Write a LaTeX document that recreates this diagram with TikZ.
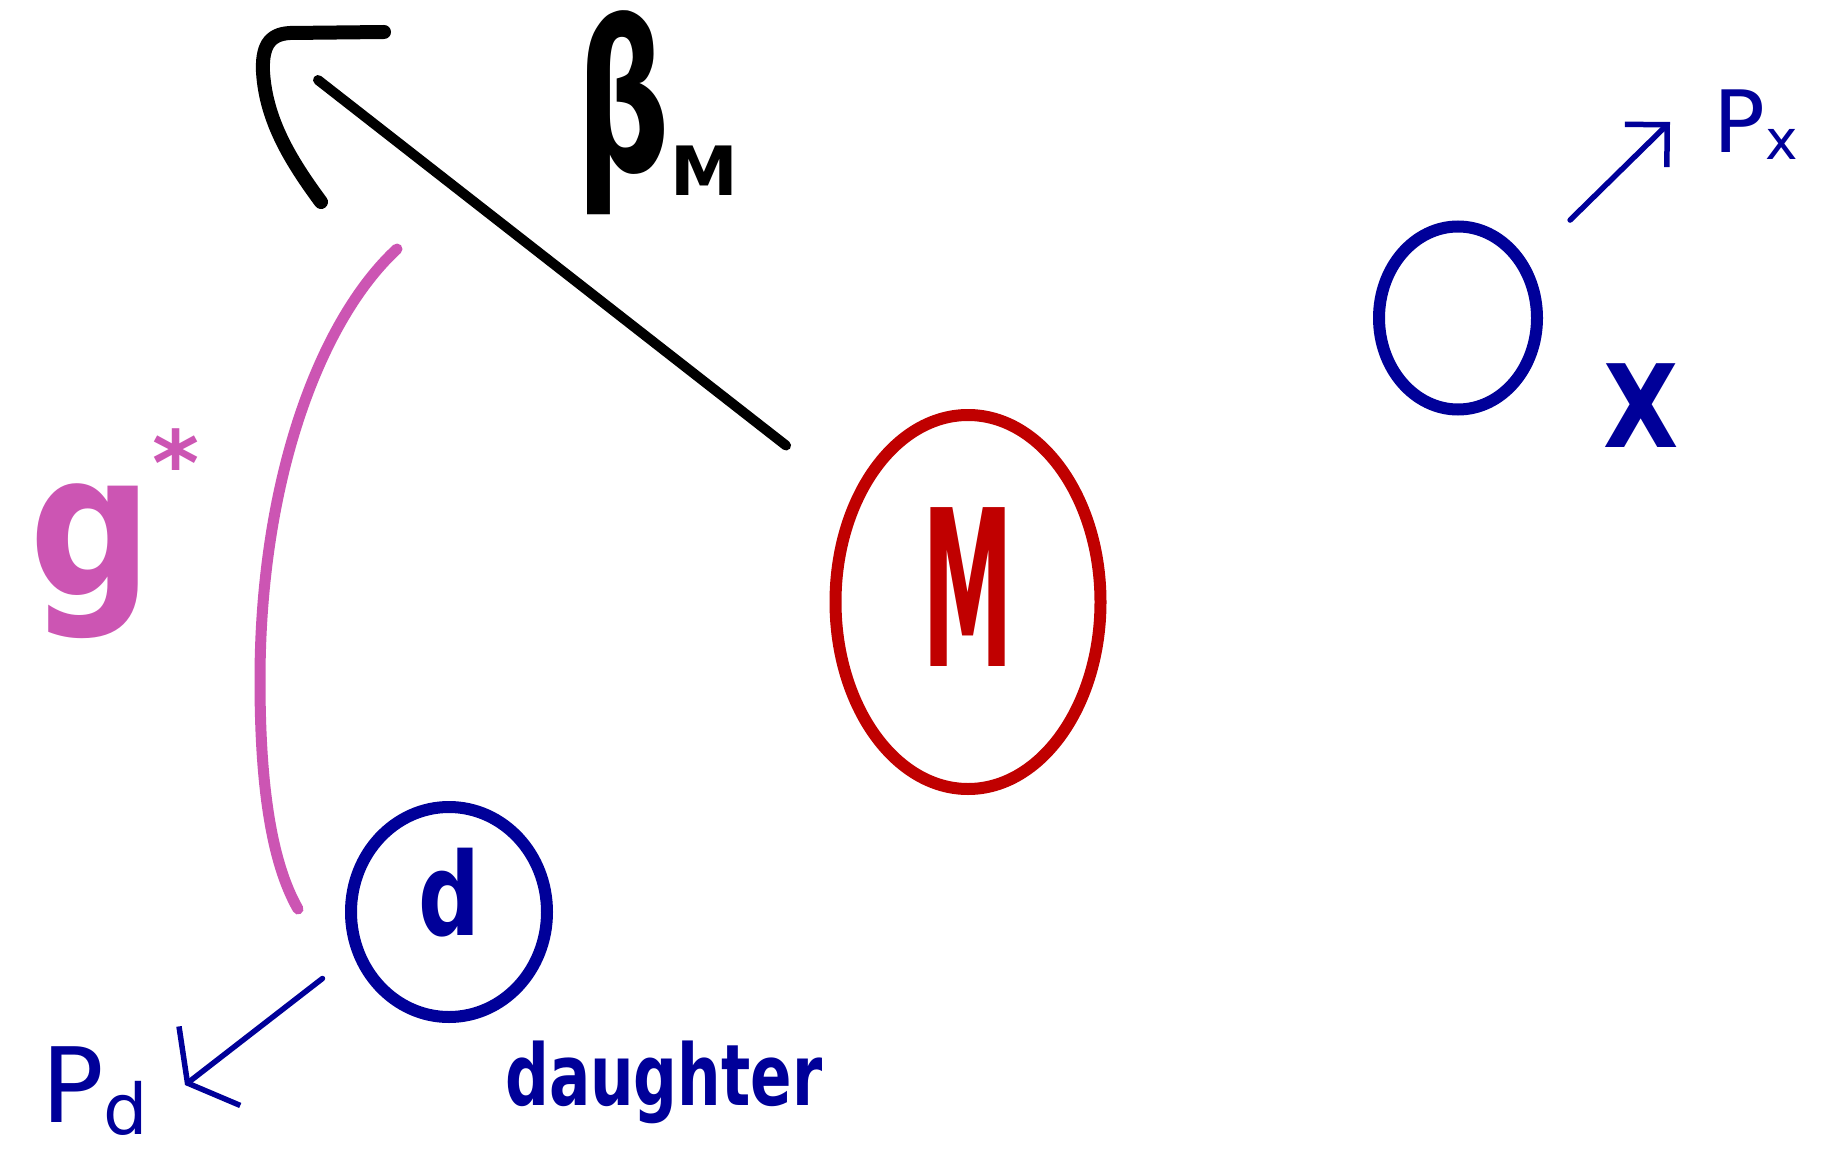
\documentclass[tikz,border=0pt]{standalone}
\usepackage{fontspec}
\setmainfont{DejaVu Sans}
\usetikzlibrary{arrows.meta,shapes.geometric}

\definecolor{inkblue}{RGB}{0,0,153}
\definecolor{inkred}{RGB}{192,0,0}
\definecolor{inkpink}{RGB}{204,85,179}
\newcommand{\fsz}[1]{\fontsize{#1}{#1}\selectfont}

\begin{document}
\begin{tikzpicture}[
  x=1pt, y=-1pt,
  ring/.style={ellipse, line width=12pt, inner sep=0pt},
  lbl/.style={anchor=base west, inner sep=0pt},
  pmline/.style={line width=10pt, line cap=round, draw=black},
  pmhead/.style={line width=14pt, line cap=round, line join=round, draw=black},
  gline/.style={line width=11pt, line cap=round, draw=inkpink},
  momarr/.style={line width=5.5pt, line cap=round, draw=inkblue}
]
\useasboundingbox[fill=white] (0,0) rectangle (1833,1166);

% the three particles
\node[ring, draw=inkred, text=inkred, minimum width=265pt, minimum height=374pt, text depth=30pt]
  (mother) at (968,602) {\fsz{218}\bfseries\scalebox{0.42}[1]{M}};
\node[ring, draw=inkblue, text=inkblue, minimum width=196pt, minimum height=210pt, text depth=40pt]
  (daughter) at (449,912) {\fsz{115}\bfseries\scalebox{0.75}[1]{d}};
\node[ring, draw=inkblue, minimum width=158pt, minimum height=183pt]
  (xring) at (1458,318) {};

% labels
\node[lbl, text=inkblue] (xlabel) at (1603,447) {\fsz{115}\bfseries\scalebox{0.85}[1]{X}};
\node[lbl, text=inkblue] (dname) at (505,1105) {\fsz{85}\bfseries\scalebox{0.72}[1]{daughter}};
\node[lbl] (pmlabel) at (576,172) {\fsz{208}\bfseries\scalebox{0.63}[1]{β}\raisebox{-24pt}{\fsz{68}\bfseries M}};
\node[lbl, text=inkpink] (glabel) at (29,595) {\fsz{200}\bfseries\scalebox{0.86}[1]{g}\raisebox{100pt}{\fsz{90}*}};
\node[lbl, text=inkblue] (pxlabel) at (1713,153) {\fsz{86}P\raisebox{-7pt}{\fsz{55}x}};
\node[lbl, text=inkblue] (pdlabel) at (41,1122) {\fsz{104}P\raisebox{-12pt}{\fsz{70}d}};

% free ends
\coordinate (pmend) at (318,80);
\coordinate (gtop) at (397,249);
\coordinate (pxtip) at (1670,122);
\coordinate (pdtip) at (185,1085);

% connectors
\draw[pmline] ([shift={(-84,-20)}]mother.north west) -- (pmend);
\draw[pmhead] (384,32) -- (290,33) .. controls (268,34) and (262,48) .. (263,72)
  .. controls (266,120) and (290,160) .. (321,202);
\draw[gline] ([shift={(-47,-3)}]daughter.west)
  .. controls (270,860) and (260,780) .. (260,680)
  .. controls (260,480) and (320,320) .. (gtop);
\draw[momarr, -{Straight Barb[length=28pt, width=100pt]}]
  ([shift={(-53,-12)}]daughter.south west) -- (pdtip);
\draw[momarr, -{Straight Barb[length=30pt, width=60pt]}]
  ([shift={(52,-29)}]xring.north east) -- (pxtip);

\end{tikzpicture}
\end{document}
